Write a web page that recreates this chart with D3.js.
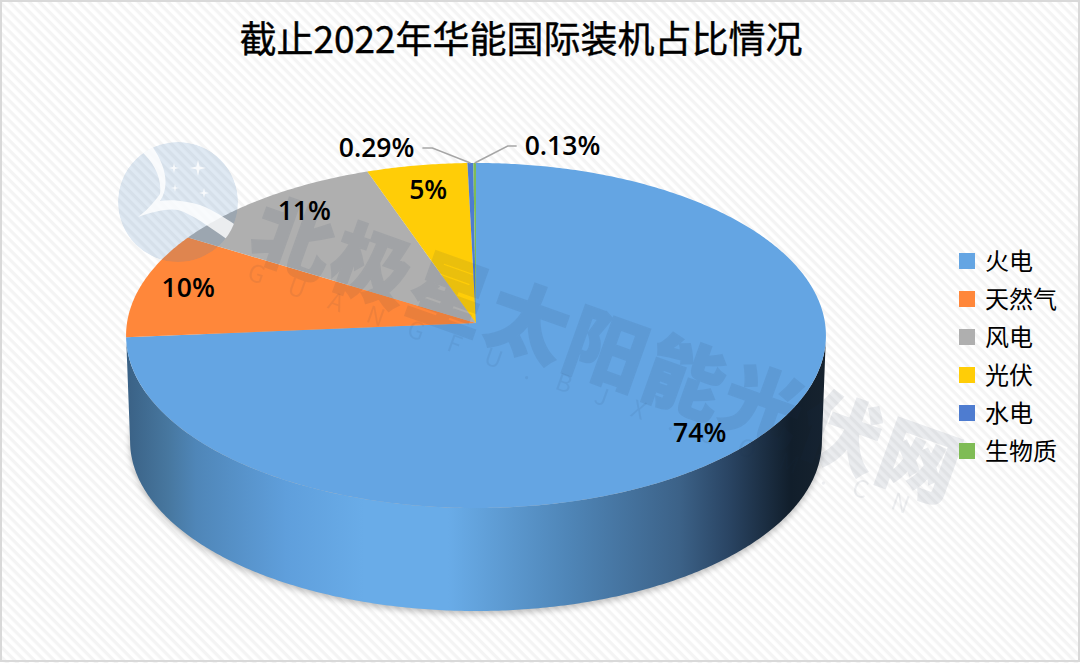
<!DOCTYPE html>
<html>
<head>
<meta charset="utf-8">
<script src="https://cdn.jsdelivr.net/npm/d3@7"></script>
<style>
	html, body { margin: 0; padding: 0; background: #fff; }
	svg { display: block; }
	text { font-family: "Noto Sans CJK SC", sans-serif; fill: #000; }
</style>
</head>
<body>
<div id="chart"></div>
<script>
var chartTitle = "截止2022年华能国际装机占比情况";
var categories = ["火电", "天然气", "风电", "光伏", "水电", "生物质"];
var shares = [74, 10, 11, 5, 0.29, 0.13];
var shareLabels = ["74%", "10%", "11%", "5%", "0.29%", "0.13%"];
var sliceColors = ["#64a5e3", "#ff873a", "#afafaf", "#ffcd07", "#4e7cd0", "#7fbc55"];

var watermarkName = "北极星太阳能光伏网";
var watermarkUrl = "GUANGFU.BJX.COM.CN";

// side wall shading, left to right
var wallOffsets = [0, 0.06, 0.1, 0.23, 0.34, 0.46, 0.63, 0.79, 0.86, 0.95, 1];
var wallColors = ["#3a6185", "#47779f", "#4f86b8", "#5f9fdc", "#69ace8", "#69ace8", "#4f86b8", "#3c6288", "#2a4564", "#111e2b", "#16222e"];

var width = 1080, height = 663;

// the top face is a circle in perspective, so the apex sits above the ellipse centre
var tilt = 0.0725;
var topFace = { x: 476, y: 323, rx: 349, ry: 171.6 };
var bottomFace = { x: 476, y: 428.7, rx: 345, ry: 169.1 };

function project(face, angle, r) {
	var u = Math.sin(angle) * r;
	var v = -Math.cos(angle) * r;
	var w = 1 - tilt * v;
	return [face.x + face.rx * u / w, face.y + face.ry * v / w];
}

function arcPoints(face, a0, a1) {
	var n = Math.max(2, Math.ceil(Math.abs(a1 - a0) / 0.01));
	return d3.range(n + 1).map(function(i) {
		return project(face, a0 + (a1 - a0) * i / n, 1);
	});
}

var line = d3.line();

var svg = d3.select("#chart").append("svg")
	.attr("width", width)
	.attr("height", height);

var defs = svg.append("defs");

var hatch = defs.append("pattern")
	.attr("id", "hatch")
	.attr("patternUnits", "userSpaceOnUse")
	.attr("width", 7)
	.attr("height", 7)
	.attr("patternTransform", "rotate(45)");
hatch.append("rect").attr("width", 7).attr("height", 7).attr("fill", "#ffffff");
hatch.append("rect").attr("width", 7).attr("height", 3.2).attr("fill", "#f4f4f4");

var wall = defs.append("linearGradient")
	.attr("id", "wall")
	.attr("gradientUnits", "userSpaceOnUse")
	.attr("x1", 126).attr("x2", 826)
	.attr("y1", 0).attr("y2", 0);
wall.selectAll("stop").data(wallOffsets).enter().append("stop")
	.attr("offset", function(d) { return d; })
	.attr("stop-color", function(d, i) { return wallColors[i]; });

defs.append("filter").attr("id", "soft")
	.attr("x", "-10%").attr("y", "-10%").attr("width", "120%").attr("height", "120%")
	.append("feGaussianBlur").attr("stdDeviation", 3);

// background and frame
svg.append("rect").attr("width", width).attr("height", height).attr("fill", "url(#hatch)");
svg.append("rect")
	.attr("x", 1).attr("y", 1)
	.attr("width", width - 2).attr("height", height - 3)
	.attr("fill", "none")
	.attr("stroke", "#d9d9d9")
	.attr("stroke-width", 2);

svg.append("text")
	.attr("x", 521)
	.attr("y", 53)
	.attr("text-anchor", "middle")
	.attr("font-size", 37)
	.attr("font-weight", 400)
	.attr("stroke", "#000")
	.attr("stroke-width", 0.4)
	.text(chartTitle);

// soft shadow below the pie
svg.append("path")
	.attr("d", line(arcPoints(bottomFace, 0, 2 * Math.PI)) + "Z")
	.attr("transform", "translate(0,3)")
	.attr("fill", "#000")
	.attr("opacity", 0.25)
	.attr("filter", "url(#soft)");

// side wall between the two widest points of the faces
var wallRight = Math.acos(-tilt);
var wallLeft = 2 * Math.PI - wallRight;
svg.append("path")
	.attr("d", line(arcPoints(topFace, wallRight, wallLeft).concat(arcPoints(bottomFace, wallLeft, wallRight))) + "Z")
	.attr("fill", "url(#wall)");

var slices = d3.pie().sort(null).value(function(d) { return d; })(shares);

svg.append("g").selectAll("path").data(slices).enter().append("path")
	.attr("d", function(d) {
		return line([[topFace.x, topFace.y]].concat(arcPoints(topFace, d.startAngle, d.endAngle))) + "Z";
	})
	.attr("fill", function(d, i) { return sliceColors[i]; });

// watermark, laid over the pie but under the labels
var mark = svg.append("g").attr("pointer-events", "none");
mark.append("clipPath").attr("id", "logoClip")
	.append("circle").attr("cx", 178).attr("cy", 202).attr("r", 60);
var logo = mark.append("g").attr("clip-path", "url(#logoClip)");
logo.append("circle")
	.attr("cx", 178).attr("cy", 202).attr("r", 60)
	.attr("fill", "#3f7fb5").attr("opacity", 0.17);
logo.append("path")
	.attr("d", "M140 150C154 162 162 178 160 194C152 205 145 212 138 217C152 212 168 208 178 210C192 214 208 226 228 240L240 228C222 216 205 204 187 202C176 200 168 200 160 201C170 186 166 166 152 146Z")
	.attr("fill", "#fff").attr("opacity", 0.8);
logo.selectAll(".star").data([[174, 168, 5], [198, 168, 8], [175, 188, 4], [204, 193, 5]]).enter().append("path")
	.attr("d", function(d) {
		var x = d[0], y = d[1], s = d[2], t = s / 5;
		return "M" + x + " " + (y - s) + "L" + (x + t) + " " + (y - t) + "L" + (x + s) + " " + y + "L" + (x + t) + " " + (y + t) +
			"L" + x + " " + (y + s) + "L" + (x - t) + " " + (y + t) + "L" + (x - s) + " " + y + "L" + (x - t) + " " + (y - t) + "Z";
	})
	.attr("fill", "#fff").attr("opacity", 0.8);
mark.append("text")
	.attr("transform", "translate(246,253) rotate(19.6)")
	.attr("font-size", 80)
	.attr("font-weight", 900)
	.attr("letter-spacing", 3)
	.attr("stroke", "#1e3250")
	.attr("stroke-width", 1.5)
	.style("fill", "#1e3250")
	.attr("opacity", 0.085)
	.text(watermarkName);
mark.append("text")
	.attr("transform", "translate(246,279) rotate(19.6)")
	.attr("font-size", 24)
	.attr("font-family", "Noto Sans")
	.attr("letter-spacing", 26)
	.style("fill", "#1e3250")
	.attr("opacity", 0.07)
	.text(watermarkUrl);

// data labels: the big slices sit inside, the two thin ones get leader lines
var labelRadius = 0.85;
var labelNudge = [[-4, 7], [-3, -2], [7, -4], [3, 2]];
var leaderBends = [null, null, null, null, [-38, -15, -48], [33, -17, 42]];

var labels = svg.append("g")
	.attr("font-size", 26.5)
	.attr("font-weight", 600);

slices.forEach(function(d, i) {
	var mid = (d.startAngle + d.endAngle) / 2;
	var text = labels.append("text").text(shareLabels[i]).style("font-family", "Open Sans");

	if (leaderBends[i]) {
		var rim = project(topFace, mid, 1);
		var bend = leaderBends[i];
		labels.append("path")
			.attr("d", line([rim, [rim[0] + bend[0], rim[1] + bend[1]], [rim[0] + bend[2], rim[1] + bend[1]]]))
			.attr("fill", "none")
			.attr("stroke", "#a6a6a6")
			.attr("stroke-width", 1.5);
		text.attr("x", rim[0] + bend[2] + (bend[2] < 0 ? -8 : 8))
			.attr("y", rim[1] + bend[1] + 9)
			.attr("text-anchor", bend[2] < 0 ? "end" : "start");
	} else {
		var p = project(topFace, mid, labelRadius);
		text.attr("x", p[0] + labelNudge[i][0])
			.attr("y", p[1] + labelNudge[i][1] + 9)
			.attr("text-anchor", "middle");
	}
});

// legend
var legendY = d3.scalePoint().domain(categories).range([261, 451]);
var legend = svg.append("g").selectAll("g").data(categories).enter().append("g")
	.attr("transform", function(d) { return "translate(959," + legendY(d) + ")"; });
legend.append("rect")
	.attr("y", -8)
	.attr("width", 16)
	.attr("height", 16)
	.attr("fill", function(d, i) { return sliceColors[i]; });
legend.append("text")
	.attr("x", 26)
	.attr("y", 8.5)
	.attr("font-size", 24)
	.text(function(d) { return d; });
</script>
</body>
</html>
